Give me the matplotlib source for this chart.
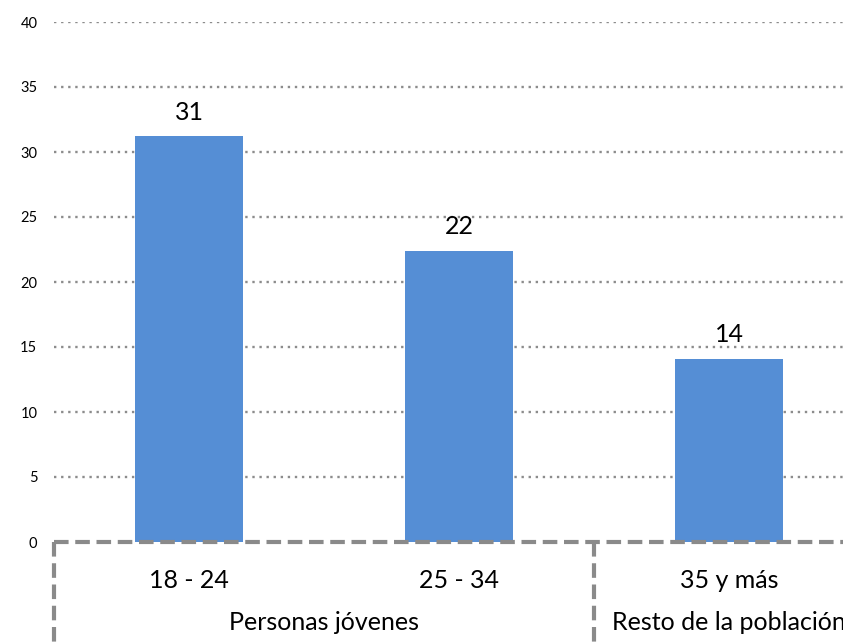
import matplotlib.pyplot as plt

categorias = ['18 - 24', '25 - 34', '35 y más']
valores = [31.2, 22.4, 14.1]
etiquetas = ['31', '22', '14']
grupos = ['Personas jóvenes', 'Resto de la población']
grupo_centros = [0.5, 2.0]
grupo_limites = [-0.5, 1.5]
yticks = [0, 5, 10, 15, 20, 25, 30, 35, 40]


def main():
    plt.rcParams['font.family'] = ['Lato', 'DejaVu Sans']
    fig = plt.figure(figsize=(8.43, 6.44), dpi=100)
    W, H = 843, 644
    ax = fig.add_axes([54 / W, (H - 542) / H, 810 / W, 520 / H])

    x = range(len(categorias))
    ax.bar(x, valores, width=0.4, color='#558ED5', zorder=2)
    for i, v in enumerate(valores):
        ax.text(i, v + 0.95, etiquetas[i], ha='center', va='bottom',
                fontsize=18, color='black')

    ax.set_xlim(-0.5, 2.5)
    ax.set_ylim(0, 40)
    ax.set_yticks(yticks)
    ax.tick_params(axis='y', length=0, pad=12, labelsize=10.5)
    ax.set_xticks([])
    for s in ax.spines.values():
        s.set_visible(False)
    for t in yticks[1:]:
        ax.axhline(t, color='#8c8c8c', lw=1.7, ls=(0, (1, 2)), zorder=1)

    # cajas de grupos (líneas discontinuas)
    gris = '#8a8a8a'
    ax.plot([-0.5, 2.6], [0, 0], color=gris, lw=3, ls=(0, (3.5, 1.6)),
            clip_on=False, zorder=3)
    for xl in grupo_limites:
        ax.plot([xl, xl], [0, -10], color=gris, lw=3, ls=(0, (3.5, 1.6)),
                clip_on=False, zorder=3)

    for i, c in enumerate(categorias):
        ax.annotate(c, xy=(i, 0), xycoords=('data', 'axes fraction'),
                    xytext=(0, -28), textcoords='offset points',
                    ha='center', va='center', fontsize=18)
    for g, xc in zip(grupos, grupo_centros):
        ax.annotate(g, xy=(xc, 0), xycoords=('data', 'axes fraction'),
                    xytext=(0, -58), textcoords='offset points',
                    ha='center', va='center', fontsize=18)

    fig.savefig('out.png', dpi=100)


if __name__ == '__main__':
    main()
